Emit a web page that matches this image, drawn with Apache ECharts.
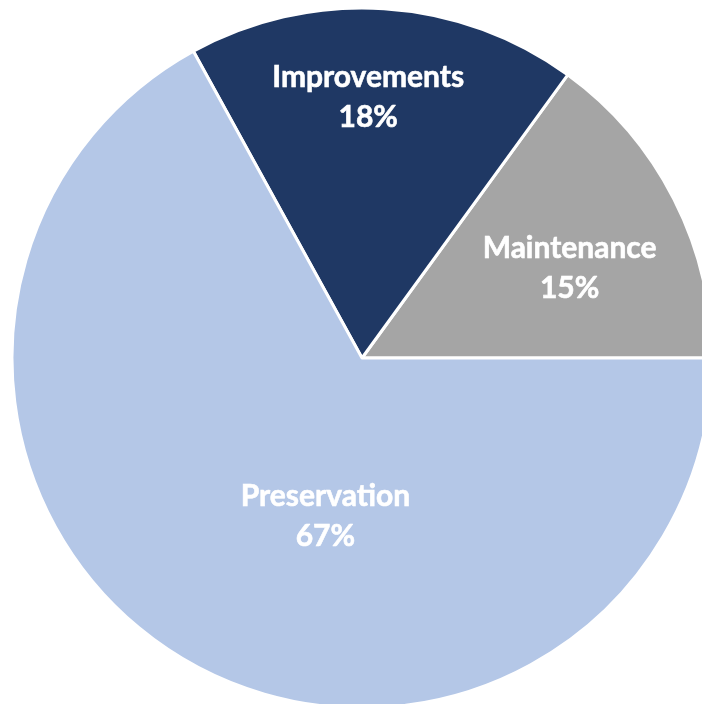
<!DOCTYPE html>
<html>
<head>
<meta charset="utf-8">
<title>Budget share</title>
<script src="https://cdn.jsdelivr.net/npm/echarts@6/dist/echarts.min.js"></script>
<style>
  html, body { margin: 0; padding: 0; background: #ffffff; }
  #chart { width: 702px; height: 704px; }
</style>
</head>
<body>
<div id="chart"></div>
<script>
// Program categories and their shares of the budget (percent)
const categories = ['Maintenance', 'Improvements', 'Preservation'];
const shares = [15, 18, 67];
const sliceColors = ['#a5a5a5', '#1f3864', '#b4c7e7'];
// Nudges that move each label from the slice's mid-radius point
const labelOffsets = [[49, -9], [-5, -83], [54, 5]];

const chart = echarts.init(document.getElementById('chart'), null, { renderer: 'canvas' });

chart.setOption({
  animation: false,
  backgroundColor: '#ffffff',
  series: [{
    type: 'pie',
    center: [362, 358],
    radius: 350,
    startAngle: 0,
    clockwise: false,
    avoidLabelOverlap: false,
    itemStyle: { borderColor: '#ffffff', borderWidth: 3 },
    label: {
      show: true,
      position: 'inside',
      color: '#ffffff',
      fontFamily: 'Lato',
      fontWeight: 'bold',
      fontSize: 30,
      lineHeight: 40,
      textBorderColor: '#ffffff',
      textBorderWidth: 0.6,
      formatter: p => p.name + '\n' + p.value + '%'
    },
    labelLine: { show: false },
    emphasis: { disabled: true },
    data: categories.map((name, i) => ({
      name: name,
      value: shares[i],
      itemStyle: { color: sliceColors[i] },
      label: { offset: labelOffsets[i] }
    }))
  }]
});
</script>
</body>
</html>
